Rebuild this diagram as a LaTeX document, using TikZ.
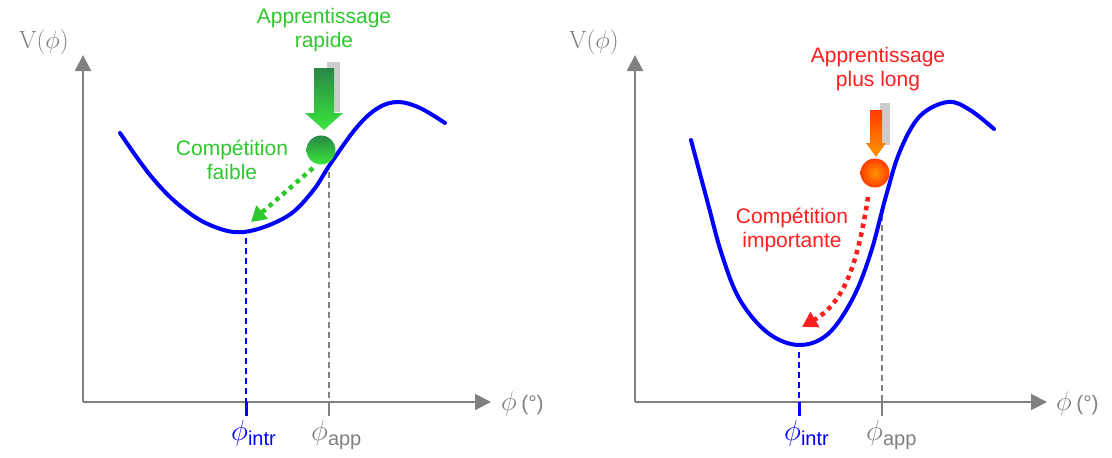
\RequirePackage{fix-cm}
\documentclass[tikz,border=0pt]{standalone}
\usepackage[no-math]{fontspec}
\setmainfont{Liberation Sans}
\usetikzlibrary{arrows.meta}
\definecolor{axisgray}{RGB}{128,128,128}
\definecolor{curveblue}{RGB}{0,0,255}
\definecolor{txtgreen}{RGB}{45,200,45}
\definecolor{txtred}{RGB}{255,30,30}
\definecolor{gdark}{RGB}{40,135,70}
\definecolor{glight}{RGB}{60,230,60}
\definecolor{ored}{RGB}{255,60,0}
\definecolor{oorange}{RGB}{255,150,0}
\definecolor{shadowgray}{RGB}{205,205,205}
\begin{document}
\begin{tikzpicture}[x=1pt,y=-1pt,
  axis/.style={draw=axisgray, line width=2pt, -{Triangle[length=16pt,width=16pt]}},
  curve/.style={draw=curveblue, line width=4pt, line cap=round},
  bluedash/.style={draw=curveblue, line width=1.6pt, dash pattern=on 6pt off 4pt},
  bluetick/.style={draw=curveblue, line width=3pt},
  graydash/.style={draw=axisgray, line width=1.3pt, dash pattern=on 6pt off 4pt},
  graytick/.style={draw=axisgray, line width=1.5pt},
  lbl/.style={font=\fontsize{21}{24}\selectfont, align=center, inner sep=0pt},
  dotarrow/.style={line width=4.5pt, dash pattern=on 4.5pt off 4.5pt, -{Triangle[length=15pt,width=17pt]}},
  axlbl/.style={text=axisgray, inner sep=0pt},
  ball/.style={circle, minimum size=29pt, inner sep=0pt},
]
\useasboundingbox (0,0) rectangle (1112,458);

% ================= LEFT PANEL =================
\coordinate (O1) at (83,402);
\coordinate (Y1) at (83,55);
\coordinate (X1) at (491,402);
\draw[axis] (O1) -- (Y1);
\draw[axis] (O1) -- (X1);
\node[axlbl, font=\fontsize{25}{30}\selectfont] (vl1) at (44,42) {$\mathrm{V}(\phi)$};
\node[axlbl, anchor=west] (xl1) at (501,404) {\fontsize{27}{30}\selectfont$\phi$\,\fontsize{21}{25}\selectfont(°)};

% dashed guides
\coordinate (m1) at (246,238);
\coordinate (t1) at (246,402);
\coordinate (b1) at (246,416);
\draw[bluedash] (m1) -- (t1);
\draw[bluetick] (t1) -- (b1);
\coordinate (a1) at (329,172);
\coordinate (ta1) at (329,402);
\coordinate (ba1) at (329,416);
\draw[graydash] (a1) -- (ta1);
\draw[graytick] (ta1) -- (ba1);

\node[anchor=base west, inner sep=0pt, text=curveblue] (pi1) at (231,440)
  {\fontsize{29}{30}\selectfont$\phi$\raisebox{-5pt}{\fontsize{20}{24}\selectfont intr}};
\node[anchor=base west, inner sep=0pt, text=axisgray] (pa1) at (311,440)
  {\fontsize{29}{30}\selectfont$\phi$\raisebox{-5pt}{\fontsize{20}{24}\selectfont app}};

% curve
\draw[curve] plot[smooth, tension=0.6] coordinates {(120,133) (150,175) (179,205) (210,225) (244,232) (286,217) (312,192) (331,163) (357,127) (378,108) (398,102) (420,108) (445,123)};

% texts
\node[lbl, text=txtgreen] (app1) at (324,30) {Apprentissage\\rapide};
\node[lbl, text=txtgreen] (comp1) at (232,160) {Compétition\\faible};

% shadow + block arrow
\fill[shadowgray] (327,62) rectangle (340,112);
\shade[top color=gdark, bottom color=glight] (314,68) -- (334,68) -- (334,113) -- (343,113) -- (324,130) -- (305,113) -- (314,113) -- cycle;
\node[ball, top color=gdark, bottom color=glight] (g1) at (321,150) {};

% dotted arrow
\coordinate (ds1) at (313,168);
\coordinate (de1) at (251,222);
\draw[dotarrow, draw=txtgreen] (ds1) -- (de1);

% ================= RIGHT PANEL =================
\coordinate (O2) at (635,402);
\coordinate (Y2) at (635,55);
\coordinate (X2) at (1047,402);
\draw[axis] (O2) -- (Y2);
\draw[axis] (O2) -- (X2);
\node[axlbl, font=\fontsize{25}{30}\selectfont] (vl2) at (594,42) {$\mathrm{V}(\phi)$};
\node[axlbl, anchor=west] (xl2) at (1056,404) {\fontsize{27}{30}\selectfont$\phi$\,\fontsize{21}{25}\selectfont(°)};

\coordinate (m2) at (799,352);
\coordinate (t2) at (799,402);
\coordinate (b2) at (799,416);
\draw[bluedash] (m2) -- (t2);
\draw[bluetick] (t2) -- (b2);
\coordinate (a2) at (882,215);
\coordinate (ta2) at (882,402);
\coordinate (ba2) at (882,416);
\draw[graydash] (a2) -- (ta2);
\draw[graytick] (ta2) -- (ba2);

\node[anchor=base west, inner sep=0pt, text=curveblue] (pi2) at (784,440)
  {\fontsize{29}{30}\selectfont$\phi$\raisebox{-5pt}{\fontsize{20}{24}\selectfont intr}};
\node[anchor=base west, inner sep=0pt, text=axisgray] (pa2) at (866,440)
  {\fontsize{29}{30}\selectfont$\phi$\raisebox{-5pt}{\fontsize{20}{24}\selectfont app}};

\draw[curve] plot[smooth, tension=0.6] coordinates {(691,140) (707,200) (722,255) (740,300) (768,333) (799,345) (828,334) (853,298) (871,252) (886,196) (900,151) (920,116) (948,102) (970,110) (994,129)};

\node[lbl, text=txtred] (app2) at (878,69) {Apprentissage\\plus long};
\node[lbl, text=txtred] (comp2) at (792,230) {Compétition\\importante};

\fill[shadowgray] (880,103) rectangle (890,145);
\shade[top color=ored, bottom color=oorange] (870,110) -- (882,110) -- (882,143) -- (886,143) -- (876,157) -- (866,143) -- (870,143) -- cycle;
\node[ball, inner color=oorange, outer color=ored] (o2) at (875,173) {};

\coordinate (ds2) at (868,197);
\coordinate (de2) at (802,327);
\draw[dotarrow, draw=txtred] (ds2) .. controls (858,262) and (845,302) .. (de2);
\end{tikzpicture}
\end{document}
